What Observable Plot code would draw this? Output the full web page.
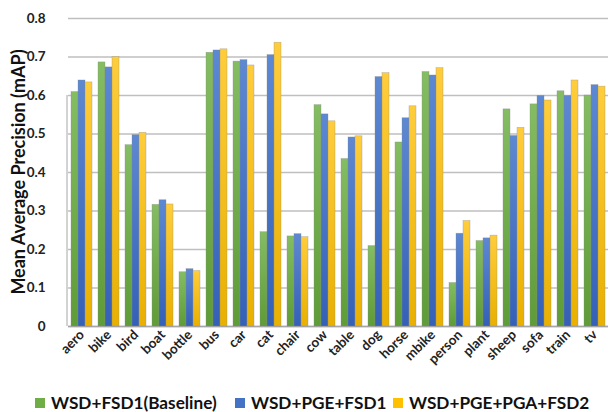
<!DOCTYPE html>
<html><head><meta charset="utf-8">
<script src="https://cdn.jsdelivr.net/npm/d3@7"></script>
<script src="https://cdn.jsdelivr.net/npm/@observablehq/plot@0.6"></script>
<style>
body{margin:0;background:#fff;font-family:Lato,"Open Sans",sans-serif;}
#chart{width:610px;height:412px;position:relative;overflow:hidden;}
.legend .item{position:absolute;top:394px;display:flex;align-items:center;font-weight:bold;font-size:17.2px;color:#111;white-space:nowrap;line-height:18px;}
.legend .sw{width:10px;height:10px;margin-right:6px;}
</style></head><body><div id="chart"></div>
<script>
const categories = ["aero","bike","bird","boat","bottle","bus","car","cat","chair","cow","table","dog","horse","mbike","person","plant","sheep","sofa","train","tv"];
const series = ["WSD+FSD1(Baseline)","WSD+PGE+FSD1","WSD+PGE+PGA+FSD2"];
const baseline = [0.609,0.686,0.471,0.316,0.141,0.711,0.688,0.245,0.234,0.575,0.435,0.209,0.478,0.661,0.113,0.222,0.564,0.577,0.611,0.600];
const pgeFsd1  = [0.639,0.673,0.497,0.328,0.149,0.717,0.692,0.705,0.240,0.551,0.491,0.648,0.541,0.652,0.241,0.229,0.495,0.599,0.599,0.627];
const pgaFsd2  = [0.634,0.700,0.503,0.317,0.144,0.720,0.678,0.737,0.232,0.533,0.494,0.658,0.572,0.671,0.274,0.236,0.516,0.587,0.639,0.623];
const yTicks = [0,0.1,0.2,0.3,0.4,0.5,0.6,0.7,0.8];
const colors = ["#70AD47","#4472C4","#FFC000"];
const gradients = [["gG","#84bd62","#5e9c37"],["gB","#5d88d2","#3461b6"],["gY","#ffcd3c","#e9b000"]];
const legendLeft = [35, 235, 393];

const values = [baseline, pgeFsd1, pgaFsd2];
const data = categories.flatMap((c, i) => series.map((s, k) => ({cat: c, s, v: values[k][i]})));

const plot = Plot.plot({
  width: 610, height: 380,
  marginLeft: 66, marginRight: 0, marginTop: 18, marginBottom: 54,
  style: {fontFamily: "Lato, 'Open Sans', sans-serif", background: "white", overflow: "visible"},
  fx: {domain: categories, padding: 0, label: null},
  x: {domain: series, paddingInner: 0.05, paddingOuter: 0.365, axis: null},
  y: {domain: [0, 0.8], label: null},
  color: {domain: series, range: gradients.map(g => `url(#${g[0]})`)},
  marks: [
    Plot.gridY(yTicks, {stroke: "#bfbfbf", strokeOpacity: 1, strokeWidth: 1.5}),
    Plot.ruleY([0], {stroke: "#a6a6a6", strokeWidth: 1.5}),
    Plot.barY(data, {fx: "cat", x: "s", y: "v", fill: "s", stroke: "#8c8c8c", strokeOpacity: 0.55, strokeWidth: 0.6}),
    Plot.axisY(yTicks, {tickSize: 0, tickPadding: 23, tickFormat: d => d === 0 ? "0" : d.toFixed(1), fontSize: 13.5, fontWeight: "bold", fill: "#222", label: null}),
    Plot.axisFx({anchor: "bottom", tickRotate: -45, tickSize: 0, tickPadding: 6, fontSize: 13.5, fontWeight: "bold", fill: "#222", label: null})
  ]
});

const svg = d3.select(plot);
const defs = svg.insert("defs", ":first-child");
gradients.forEach(([id, a, b]) => {
  const g = defs.append("linearGradient").attr("id", id).attr("x1", 0).attr("y1", 0).attr("x2", 0).attr("y2", 1);
  g.append("stop").attr("offset", "0%").attr("stop-color", a);
  g.append("stop").attr("offset", "100%").attr("stop-color", b);
});
const y = plot.scale("y");
svg.append("line").attr("x1", 67).attr("x2", 67)
  .attr("y1", y.apply(0)).attr("y2", y.apply(0.6))
  .attr("stroke", "#a6a6a6").attr("stroke-width", 1);
svg.append("text")
  .attr("transform", `translate(18,${(y.apply(0) + y.apply(0.8)) / 2}) rotate(-90)`)
  .attr("text-anchor", "middle").attr("dominant-baseline", "central")
  .attr("font-size", 18).attr("font-weight", "bold").attr("fill", "#111")
  .text("Mean Average Precision (mAP)");

const chart = document.getElementById("chart");
chart.appendChild(plot);
const legend = document.createElement("div");
legend.className = "legend";
series.forEach((s, k) => {
  const item = document.createElement("div");
  item.className = "item";
  item.style.left = legendLeft[k] + "px";
  const sw = document.createElement("span");
  sw.className = "sw";
  sw.style.background = colors[k];
  const t = document.createElement("span");
  t.textContent = s;
  item.appendChild(sw); item.appendChild(t);
  legend.appendChild(item);
});
chart.appendChild(legend);
</script>
</body></html>
